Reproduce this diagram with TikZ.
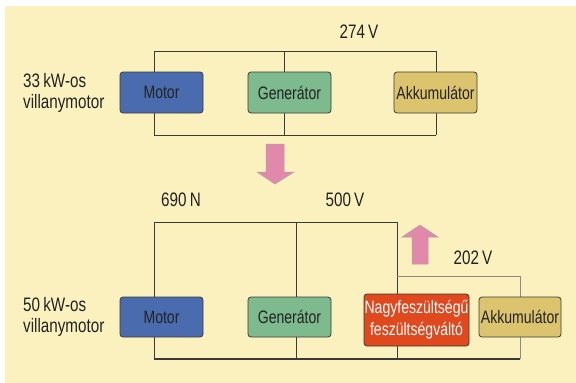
\documentclass[tikz,border=0pt]{standalone}
\usepackage{fontspec}
\setmainfont{Liberation Sans}[FakeStretch=0.78]
\usetikzlibrary{backgrounds}
\definecolor{bgyellow}{HTML}{FBF1BF}
\definecolor{motorblue}{HTML}{4A6CAE}
\definecolor{gengreen}{HTML}{7DBB8E}
\definecolor{akkuyellow}{HTML}{DCC46E}
\definecolor{convred}{HTML}{E0481E}
\definecolor{arrowpink}{HTML}{E189AA}
\definecolor{wiredark}{HTML}{3A3A36}
\definecolor{wirelight}{HTML}{8E8C80}
\definecolor{txt}{HTML}{222222}
\tikzset{
  boxstyle/.style={draw=wiredark, line width=0.8pt, rounded corners=3pt, inner sep=0pt,
    font=\fontsize{18}{22}\selectfont, text=txt, align=center},
  lbl/.style={font=\fontsize{19.5}{21}\selectfont, text=txt, inner sep=0pt},
  wire/.style={draw=wiredark, line width=0.9pt},
  wirebot/.style={draw=wiredark, line width=1.3pt},
  wirelt/.style={draw=wirelight, line width=0.9pt},
  bigarrow/.style={fill=arrowpink, draw=gray!70, line width=0.5pt}
}
\begin{document}
\begin{tikzpicture}[x=1pt,y=-1pt]
\useasboundingbox (0,0) rectangle (576,383);

% ---------- top circuit ----------
\node[boxstyle, fill=motorblue, minimum width=83pt, minimum height=41pt] (motor1) at (161.5,92.5) {Motor};
\node[boxstyle, fill=gengreen, minimum width=83pt, minimum height=41pt] (gen1) at (289.5,92.5) {Generátor};
\node[boxstyle, fill=akkuyellow, minimum width=83pt, minimum height=41pt] (akku1) at (435.5,92.5) {Akkumulátor};

\coordinate (tl) at (154,51);
\coordinate (tm) at (284,51);
\coordinate (tr) at (436,51);
\coordinate (bl) at (154,135);
\coordinate (bm) at (284,135);
\coordinate (br) at (436,135);

\begin{scope}[on background layer]
\fill[white] (0,0) rectangle (576,383);
\fill[bgyellow] (5,6) rectangle (576,383);
\draw[wire] (tl) -- (tr);
\draw[wire] (bl) -- (br);
\draw[wire] (tl) -- (bl);
\draw[wire] (tm) -- (bm);
\draw[wire] (tr) -- (br);
\end{scope}

\node[lbl] (v274) at (359,32) {274\,V};
\node[lbl, align=left, anchor=west] (kw33) at (23,93) {33\,kW-os\\villanymotor};

% down arrow
\draw[bigarrow] (266,144) -- (284,144) -- (284,172) -- (294,172) -- (275,184) -- (257,172) -- (266,172) -- cycle;

% ---------- bottom circuit ----------
\node[boxstyle, fill=motorblue, minimum width=83pt, minimum height=40pt] (motor2) at (161.5,317) {Motor};
\node[boxstyle, fill=gengreen, minimum width=83pt, minimum height=40pt] (gen2) at (289.5,317) {Generátor};
\node[boxstyle, fill=convred, text=white, minimum width=105pt, minimum height=52pt,
  font=\fontsize{18}{22}\selectfont] (conv) at (416.5,320) {Nagyfeszültségű\\feszültségváltó};
\node[boxstyle, fill=akkuyellow, minimum width=82pt, minimum height=40pt] (akku2) at (520,317) {Akkumulátor};

\coordinate (atl) at (154,222);
\coordinate (atm) at (296,222);
\coordinate (atr) at (397,222);
\coordinate (abl) at (154,359);
\coordinate (abm) at (296,359);
\coordinate (abr) at (397,359);
\coordinate (abx) at (520,359);
\coordinate (aw1) at (397,276);
\coordinate (aw2) at (520,276);

\begin{scope}[on background layer]
\draw[wire] (atl) -- (atr);
\draw[wire] (atl) -- (abl);
\draw[wire] (atm) -- (abm);
\draw[wire] (atr) -- (abr);
\draw[wirelt] (aw1) -- (aw2) -- (abx);
\draw[wirebot] (abl) -- (abx);
\end{scope}

\node[lbl] (n690) at (181,200) {690\,N};
\node[lbl] (v500) at (345,200) {500\,V};
\node[lbl] (v202) at (473,258) {202\,V};
\node[lbl, align=left, anchor=west] (kw50) at (23,317) {50\,kW-os\\villanymotor};

% up arrow
\draw[bigarrow] (412,264) -- (428,264) -- (428,237) -- (438,237) -- (420,225) -- (402,237) -- (412,237) -- cycle;
\end{tikzpicture}
\end{document}
